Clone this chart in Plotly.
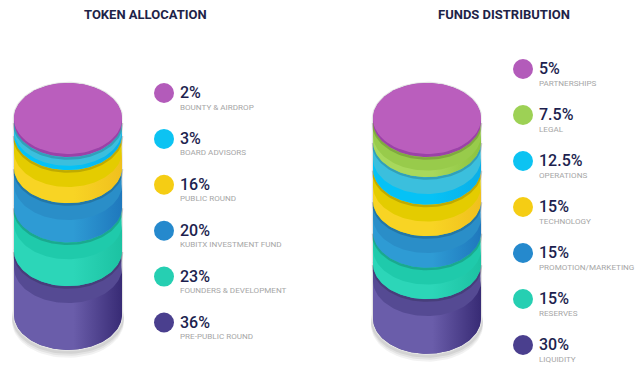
import numpy as np
import plotly.graph_objects as go

# ---------------- data ----------------
token_title = "TOKEN ALLOCATION"
token_labels = ["BOUNTY & AIRDROP", "BOARD ADVISORS", "PUBLIC ROUND",
                "KUBITX INVESTMENT FUND", "FOUNDERS & DEVELOPMENT", "PRE-PUBLIC ROUND"]
token_values = [2, 3, 16, 20, 23, 36]

funds_title = "FUNDS DISTRIBUTION"
funds_labels = ["PARTNERSHIPS", "LEGAL", "OPERATIONS", "TECHNOLOGY",
                "PROMOTION/MARKETING", "RESERVES", "LIQUIDITY"]
funds_values = [5, 7.5, 12.5, 15, 15, 15, 30]

# ---------------- styles ----------------
PAL = {
    "purple": dict(dot="#b35bba", face="#ba5ebd", rim="#9b42a8"),
    "cyan":   dict(dot="#0cc3f2", up="#3bbfdd", lo=("#05c2f6", "#0aafe8")),
    "green":  dict(dot="#9dd155", up="#98cb4b", lo=("#a8d85c", "#8cc33e")),
    "yellow": dict(dot="#f5cd14", up="#e4cc00", lo=("#f8d424", "#f0c01e")),
    "blue":   dict(dot="#2589cd", up="#2a8ec8", lo=("#2e9bd4", "#1f78bd")),
    "teal":   dict(dot="#26cfb2", up="#1fcaab", lo=("#2cd6b8", "#1cc2a2")),
    "indigo": dict(dot="#4a3f8e", up="#554a93", lo=("#6a5daa", "#382b75")),
}
token_colors = ["purple", "cyan", "yellow", "blue", "teal", "indigo"]
funds_colors = ["purple", "green", "cyan", "yellow", "blue", "teal", "indigo"]

RX, RY = 54, 35.5
A_OFF, B_SCALE = 8.4, 1.54   # band height = A_OFF + B_SCALE * value
RIM = 3
NAVY = "#1d1f4f"
GREY = "#a6a6a6"

fig = go.Figure()


def arc(cx, c, t0, t1, rx=RX, ry=RY, n=80):
    t = np.linspace(t0, t1, n)
    return cx + rx * np.cos(t), c + ry * np.sin(t)


def poly(xs, ys, **kw):
    fig.add_trace(go.Scatter(x=np.concatenate(xs), y=np.concatenate(ys), mode="lines",
                             fill="toself", line=dict(width=0), hoverinfo="skip", **kw))


def cylinder(cx, c0, values, colors):
    levels = [c0, c0 + RIM]
    for v in values[1:]:
        levels.append(levels[-1] + A_OFF + B_SCALE * v)
    cbot = levels[-1]
    # soft base shadow
    for k, a in [(7, 0.05), (5, 0.06), (3, 0.07)]:
        x1, y1 = arc(cx, cbot + k, 0, 2 * np.pi, rx=RX + 2, ry=RY + 1)
        poly([x1], [y1], fillcolor=f"rgba(0,0,0,{a})")
    # faint outline
    xa, ya = arc(cx, cbot, np.pi, 0, rx=RX + 1.2, ry=RY + 1.2)
    xb, yb = arc(cx, c0, 0, -np.pi, rx=RX + 1.2, ry=RY + 1.2)
    poly([xa, xb], [ya, yb], fillcolor="#e4e4e4")
    # bands from bottom to top
    for i in range(len(values) - 1, 0, -1):
        ct, cb = levels[i], levels[i + 1]
        h = cb - ct
        cm = ct + min(17, 0.68 * h)
        p = PAL[colors[i]]
        xa, ya = arc(cx, cb, np.pi, 0)
        xb, yb = arc(cx, ct, 0, -np.pi)
        poly([xa, xb], [ya, yb], fillcolor=p["up"])
        xc, yc = arc(cx, cm, 0, np.pi)
        poly([xa, xc], [ya, yc], fillcolor=p["lo"][0],
             fillgradient=dict(type="horizontal",
                               colorscale=[[0, p["lo"][0]], [0.55, p["lo"][0]], [1, p["lo"][1]]]))
        # shadow cast by the band above
        xs, ys = arc(cx, ct + 1.5, np.pi, 0)
        fig.add_trace(go.Scatter(x=xs, y=ys, mode="lines", hoverinfo="skip",
                                 line=dict(color="rgba(0,0,0,0.16)", width=2.5)))
    # lid
    p = PAL[colors[0]]
    xa, ya = arc(cx, levels[1], np.pi, 0)
    xb, yb = arc(cx, c0, 0, -np.pi)
    poly([xa, xb], [ya, yb], fillcolor=p["rim"])
    xf, yf = arc(cx, c0, 0, 2 * np.pi)
    poly([xf], [yf], fillcolor=p["face"])


def legend(xdot, y0, step, values, labels, colors):
    ys = [y0 + step * i for i in range(len(values))]
    fig.add_trace(go.Scatter(x=[xdot] * len(values), y=ys, mode="markers", hoverinfo="skip",
                             marker=dict(size=20, color=[PAL[c]["dot"] for c in colors],
                                         line=dict(width=0))))
    for y, v, lab in zip(ys, values, labels):
        fig.add_annotation(x=xdot + 14, y=y - 0.5, text=f"{v:g}%", showarrow=False,
                           xanchor="left", yanchor="middle", xref="x", yref="y",
                           font=dict(family="Roboto", size=16, color=NAVY, weight=500))
        fig.add_annotation(x=xdot + 14, y=y + 13.5, text=lab, showarrow=False,
                           xanchor="left", yanchor="middle", xref="x", yref="y",
                           font=dict(family="Roboto", size=8.1, color=GREY))


cylinder(68, 118.5, token_values, token_colors)
cylinder(427, 118.5, funds_values, funds_colors)
legend(164, 93, 45.9, token_values, token_labels, token_colors)
legend(523, 69, 46, funds_values, funds_labels, funds_colors)

for xt, t in [(145, token_title), (504, funds_title)]:
    fig.add_annotation(x=xt, y=14, text=t, showarrow=False, xref="x", yref="y",
                       xanchor="center", yanchor="middle",
                       font=dict(family="Roboto", size=13, color="#1e2347", weight=700))

fig.update_layout(
    width=640, height=369, margin=dict(l=0, r=0, t=0, b=0),
    paper_bgcolor="white", plot_bgcolor="white", showlegend=False,
    xaxis=dict(range=[0, 640], visible=False, fixedrange=True),
    yaxis=dict(range=[369, 0], visible=False, fixedrange=True),
)
fig.write_html("out.html", config={"displayModeBar": False},
               post_script="document.body.style.margin='0';document.body.style.overflow='hidden';")
